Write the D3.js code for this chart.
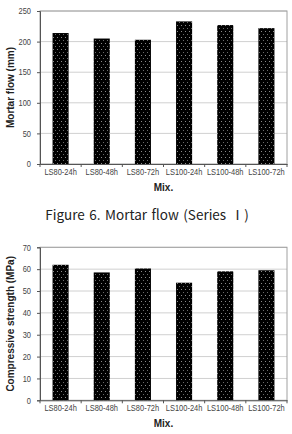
<!DOCTYPE html>
<html>
<head>
<meta charset="utf-8">
<script src="https://cdn.jsdelivr.net/npm/d3@7"></script>
<style>
  body { margin: 0; background: #fff; }
  svg { display: block; }
  .tick text { font-family: "Liberation Sans", Arial, sans-serif; fill: #444; }
</style>
</head>
<body>
<script>

// Data.
var mixes = ['LS80-24h', 'LS80-48h', 'LS80-72h', 'LS100-24h', 'LS100-48h', 'LS100-72h'];
var flowValues = [214, 205, 203, 233, 227, 222];
var strengthValues = [62, 58.5, 60.3, 53.8, 59, 59.5];
var flowTicks = [0, 50, 100, 150, 200, 250];
var strengthTicks = [0, 10, 20, 30, 40, 50, 60, 70];
var caption = 'Figure 6. Mortar flow (Series Ⅰ)';

// Horizontal squeeze for the narrow tick font.
var squeeze = 0.88;

var svg = d3.select('body').append('svg')
  .attr('width', 292)
  .attr('height', 434);

// Dotted bar fill.
var pat = svg.append('defs').append('pattern')
  .attr('id', 'dots')
  .attr('patternUnits', 'userSpaceOnUse')
  .attr('width', 4)
  .attr('height', 6);
pat.append('rect').attr('width', 4).attr('height', 6).attr('fill', '#000');
pat.append('rect').attr('x', 1).attr('y', 1).attr('width', 1).attr('height', 1).attr('fill', '#8a8a8a');
pat.append('rect').attr('x', 3).attr('y', 4).attr('width', 1).attr('height', 1).attr('fill', '#6a6a6a');

/*
 * Draw one bar chart.
 */
function drawChart(top, bottom, values, ticks, yTitle) {

  var left = 40, right = 287;
  var g = svg.append('g');

  var x = d3.scaleBand().domain(mixes).range([left, right]).paddingInner(0.61).paddingOuter(0.305);
  var y = d3.scaleLinear().domain([0, d3.max(ticks)]).range([bottom, top]);

  // Gridlines.
  g.selectAll('.grid').data(ticks.slice(1)).enter().append('line')
    .attr('x1', left).attr('x2', right)
    .attr('y1', function(d) { return y(d); })
    .attr('y2', function(d) { return y(d); })
    .attr('stroke', '#d0d0d0').attr('stroke-width', 1);

  // Plot frame.
  g.append('rect')
    .attr('x', left).attr('y', top)
    .attr('width', right - left).attr('height', bottom - top)
    .attr('fill', 'none').attr('stroke', '#a0a0a0');

  // Bars.
  g.selectAll('.bar').data(values).enter().append('rect')
    .attr('x', function(d, i) { return x(mixes[i]); })
    .attr('y', function(d) { return y(d); })
    .attr('width', x.bandwidth())
    .attr('height', function(d) { return bottom - y(d); })
    .attr('fill', 'url(#dots)');

  // Y axis.
  var ya = g.append('g').attr('transform', 'translate(' + left + ',0)')
    .call(d3.axisLeft(y).tickValues(ticks).tickSize(3).tickPadding(6));
  ya.select('.domain').attr('stroke', '#555');
  ya.selectAll('.tick line').attr('stroke', '#555');
  ya.selectAll('.tick text')
    .attr('font-size', 8.5)
    .attr('x', -9 / squeeze)
    .attr('transform', 'scale(' + squeeze + ',1)');

  // X axis, ticks between categories.
  var xa = g.append('g').attr('transform', 'translate(0,' + bottom + ')')
    .call(d3.axisBottom(x).tickSize(0).tickPadding(5).tickSizeOuter(0));
  xa.select('.domain').attr('stroke', '#555');
  xa.selectAll('.tick text')
    .attr('font-size', 8.5)
    .attr('transform', 'scale(' + squeeze + ',1)');
  var step = x.step();
  g.selectAll('.sep').data(d3.range(7)).enter().append('line')
    .attr('x1', function(i) { return left + i * step; })
    .attr('x2', function(i) { return left + i * step; })
    .attr('y1', bottom).attr('y2', bottom + 3)
    .attr('stroke', '#555');

  // Titles.
  g.append('text')
    .attr('x', (left + right) / 2).attr('y', bottom + 26.5)
    .attr('text-anchor', 'middle')
    .attr('font-family', '"Liberation Sans", Arial, sans-serif')
    .attr('font-weight', 'bold').attr('font-size', 10).attr('fill', '#222')
    .text('Mix.');

  g.append('text')
    .attr('transform', 'translate(14,' + ((top + bottom) / 2) + ') rotate(-90)')
    .attr('text-anchor', 'middle')
    .attr('font-family', '"Liberation Sans", Arial, sans-serif')
    .attr('font-weight', 'bold').attr('font-size', 10).attr('fill', '#222')
    .text(yTitle);
}

drawChart(11, 164, flowValues, flowTicks, 'Mortar flow (mm)');
drawChart(247.3, 400.3, strengthValues, strengthTicks, 'Compressive strength (MPa)');

// Caption.
svg.append('text')
  .attr('x', 147).attr('y', 220)
  .attr('text-anchor', 'middle')
  .attr('font-family', '"Noto Sans CJK KR", "Noto Sans", sans-serif')
  .attr('font-size', 13.5).attr('fill', '#222')
  .attr('word-spacing', 1.5)
  .text(caption);

</script>
</body>
</html>
